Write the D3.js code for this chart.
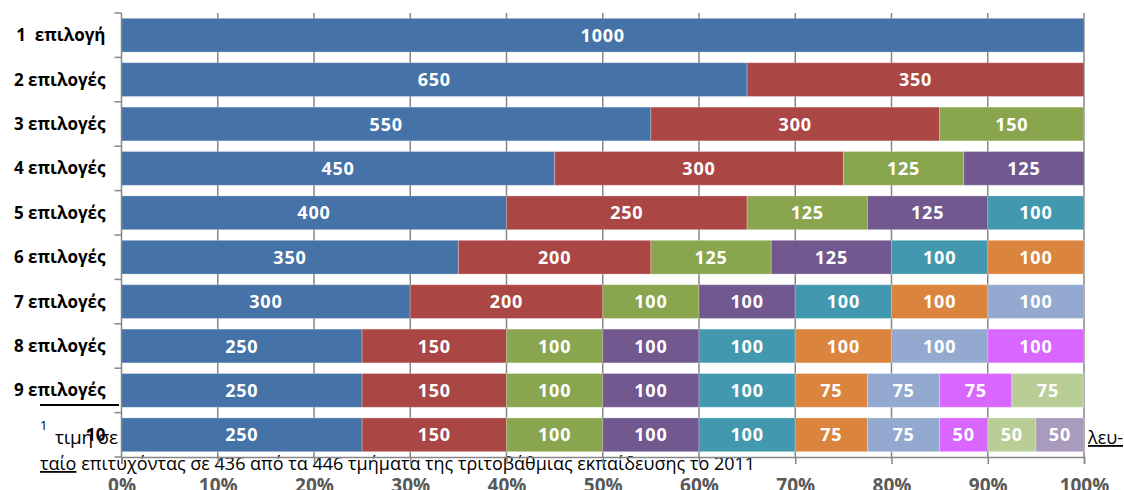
<!DOCTYPE html>
<html>
<head>
<meta charset="utf-8">
<script src="https://cdn.jsdelivr.net/npm/d3@7"></script>
<style>
  body { margin: 0; background: #fff; }
  svg { display: block; }
</style>
</head>
<body>
<div id="chart"></div>
<script>
// categories (rows, top to bottom)
const categories = ['1  επιλογή', '2 επιλογές', '3 επιλογές', '4 επιλογές', '5 επιλογές',
  '6 επιλογές', '7 επιλογές', '8 επιλογές', '9 επιλογές', '10'];

// values per row, left to right
const row1 = [1000];
const row2 = [650, 350];
const row3 = [550, 300, 150];
const row4 = [450, 300, 125, 125];
const row5 = [400, 250, 125, 125, 100];
const row6 = [350, 200, 125, 125, 100, 100];
const row7 = [300, 200, 100, 100, 100, 100, 100];
const row8 = [250, 150, 100, 100, 100, 100, 100, 100];
const row9 = [250, 150, 100, 100, 100, 75, 75, 75, 75];
const row10 = [250, 150, 100, 100, 100, 75, 75, 50, 50, 50];
const rows = [row1, row2, row3, row4, row5, row6, row7, row8, row9, row10];

const xTicks = [0, 0.1, 0.2, 0.3, 0.4, 0.5, 0.6, 0.7, 0.8, 0.9, 1];

const colors = ['#4572A7', '#AA4643', '#89A54E', '#71588F', '#4198AF',
  '#DB843D', '#93A9CF', '#D966FF', '#B9CD96', '#A99BBD'];

const W = 1124, H = 490;
const plotLeft = 121.5, plotRight = 1084, plotTop = 13, plotBottom = 457;

const svg = d3.select('#chart').append('svg')
  .attr('width', W)
  .attr('height', H);

// build table for d3.stack
const keys = d3.range(10).map(i => 's' + i);
const table = rows.map((r, i) => {
  const o = { cat: categories[i] };
  keys.forEach((k, j) => { o[k] = r[j] || 0; });
  return o;
});
const series = d3.stack().keys(keys).offset(d3.stackOffsetExpand)(table);

const x = d3.scaleLinear().domain([0, 1]).range([plotLeft, plotRight]);
const y = d3.scaleBand()
  .domain(categories)
  .range([plotTop, plotBottom])
  .paddingInner(0.24)
  .paddingOuter(0.12);

// footnote text that sits behind the chart
const note = svg.append('g')
  .style('font-family', '"Open Sans", sans-serif')
  .style('fill', '#000');
note.append('line')
  .attr('x1', 40).attr('x2', 119)
  .attr('y1', 405).attr('y2', 405)
  .attr('stroke', '#000').attr('stroke-width', 2);
note.append('text')
  .attr('x', 40).attr('y', 430)
  .style('font-size', '13px')
  .text('1');
note.append('text')
  .attr('x', 55).attr('y', 444)
  .attr('textLength', 63)
  .style('font-size', '19px')
  .text('τιμή σε');
note.append('text')
  .attr('x', 1088).attr('y', 444)
  .style('font-size', '18px')
  .style('text-decoration', 'underline')
  .text('λευ-');
const line2 = note.append('text')
  .attr('x', 40).attr('y', 470)
  .style('font-size', '18px');
line2.append('tspan')
  .style('text-decoration', 'underline')
  .text('ταίο');
line2.append('tspan')
  .text(' επιτυχόντας σε 436 από τα 446 τμήματα της τριτοβάθμιας εκπαίδευσης το 2011');

// vertical gridlines
svg.append('g')
  .selectAll('line')
  .data(xTicks.slice(1))
  .join('line')
  .attr('x1', d => x(d)).attr('x2', d => x(d))
  .attr('y1', plotTop).attr('y2', plotBottom)
  .attr('stroke', '#868686')
  .attr('stroke-width', 1.5);

// bars
const layer = svg.append('g')
  .selectAll('g')
  .data(series)
  .join('g')
  .attr('fill', (d, i) => colors[i]);

layer.selectAll('rect')
  .data(d => d.filter(p => p[1] > p[0]))
  .join('rect')
  .attr('x', d => x(d[0]))
  .attr('y', d => y(d.data.cat))
  .attr('width', d => x(d[1]) - x(d[0]))
  .attr('height', y.bandwidth())
  .attr('stroke', 'rgba(255,255,255,0.25)')
  .attr('stroke-width', 1);

// value labels
series.forEach((s, i) => {
  svg.append('g')
    .selectAll('text')
    .data(s.filter(p => p[1] > p[0]))
    .join('text')
    .attr('x', d => (x(d[0]) + x(d[1])) / 2)
    .attr('y', d => y(d.data.cat) + y.bandwidth() / 2 + 6.5)
    .attr('text-anchor', 'middle')
    .style('font-family', '"Open Sans", sans-serif')
    .style('font-weight', 'bold')
    .style('font-size', '18px')
    .style('letter-spacing', '0.8px')
    .style('fill', '#fff')
    .text(d => d.data[s.key]);
});

// y axis
const yAxis = svg.append('g')
  .attr('transform', `translate(${plotLeft},0)`);
yAxis.append('line')
  .attr('x1', 0).attr('x2', 0)
  .attr('y1', plotTop).attr('y2', plotBottom)
  .attr('stroke', '#868686').attr('stroke-width', 1.5);
yAxis.selectAll('.tk')
  .data(d3.range(categories.length + 1))
  .join('line')
  .attr('class', 'tk')
  .attr('x1', -7).attr('x2', 0)
  .attr('y1', i => plotTop + i * y.step())
  .attr('y2', i => plotTop + i * y.step())
  .attr('stroke', '#868686').attr('stroke-width', 1.5);
yAxis.selectAll('text')
  .data(categories)
  .join('text')
  .attr('x', -16)
  .attr('y', d => y(d) + y.bandwidth() / 2 + 6)
  .attr('text-anchor', 'end')
  .style('white-space', 'pre')
  .style('font-family', '"Open Sans", sans-serif')
  .style('font-weight', 'bold')
  .style('font-size', '17px')
  .style('fill', '#000')
  .text(d => d);

// x axis
const xAxis = svg.append('g')
  .attr('transform', `translate(0,${plotBottom})`)
  .call(d3.axisBottom(x).tickValues(xTicks).tickFormat(d3.format('.0%')).tickSize(7).tickPadding(15));
xAxis.select('.domain').attr('stroke', '#868686').attr('stroke-width', 1.5);
xAxis.selectAll('.tick line').attr('stroke', '#868686').attr('stroke-width', 1.5);
xAxis.selectAll('.tick text')
  .style('font-family', '"Open Sans", sans-serif')
  .style('font-weight', 'bold')
  .style('font-size', '19px')
  .style('fill', '#595959');
</script>
</body>
</html>
